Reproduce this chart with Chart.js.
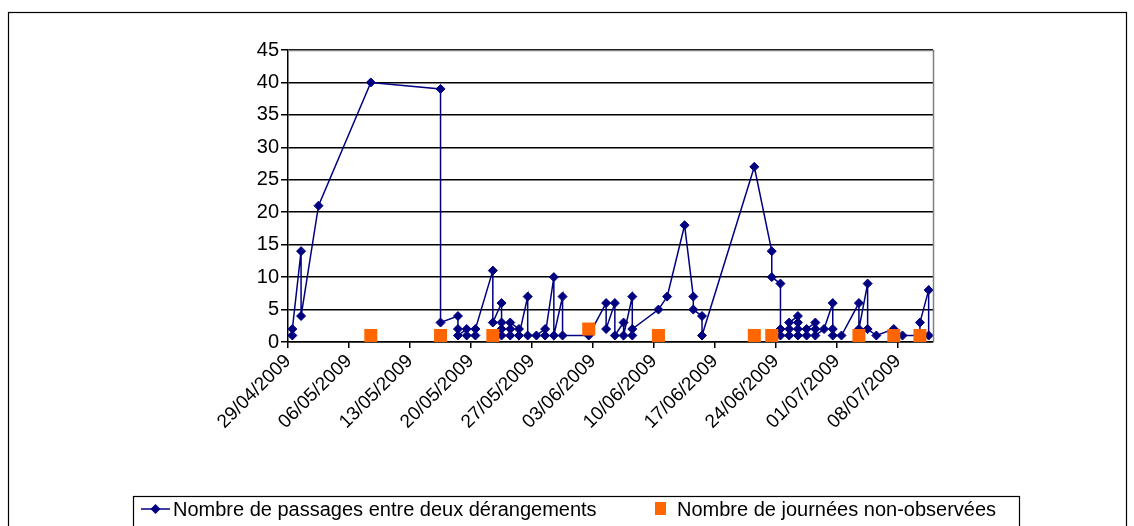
<!DOCTYPE html>
<html>
<head>
<meta charset="utf-8">
<script src="https://cdn.jsdelivr.net/npm/chart.js@4.4.1/dist/chart.umd.min.js"></script>
<style>
  html, body { margin: 0; padding: 0; background: #fff; }
  #wrap { position: relative; width: 1134px; height: 526px; }
</style>
</head>
<body>
<div id="wrap"><canvas id="chart" width="1134" height="526"></canvas></div>
<script>
// Passages between two disturbances (dd/mm, 2009), one entry per recorded value
const passDates = [
    '29/04', '29/04', '30/04', '30/04', '02/05', '08/05',
    '16/05', '16/05', '18/05', '18/05', '18/05', '19/05', '19/05', '20/05', '20/05',
    '22/05', '22/05', '23/05', '23/05', '23/05', '23/05', '24/05', '24/05', '24/05',
    '25/05', '25/05', '26/05', '26/05', '27/05', '28/05', '28/05', '29/05', '29/05', '30/05', '30/05',
    '02/06', '04/06', '04/06', '05/06', '05/06', '06/06', '06/06', '07/06', '07/06', '07/06',
    '10/06', '11/06', '13/06', '14/06', '14/06', '15/06', '15/06',
    '21/06', '23/06', '23/06', '24/06', '24/06', '24/06', '25/06', '25/06', '25/06',
    '26/06', '26/06', '26/06', '26/06', '27/06', '27/06', '28/06', '28/06', '28/06', '29/06',
    '30/06', '30/06', '30/06', '01/07', '03/07', '03/07', '04/07', '04/07', '05/07',
    '07/07', '08/07', '10/07', '10/07', '11/07', '11/07'
];
const passValues = [
    1, 2, 14, 4, 21, 40,
    39, 3, 4, 2, 1, 2, 1, 1, 2,
    11, 3, 6, 3, 2, 1, 1, 2, 3,
    2, 1, 7, 1, 1, 2, 1, 10, 1, 7, 1,
    1, 6, 2, 6, 1, 3, 1, 7, 1, 2,
    5, 7, 18, 7, 5, 4, 1,
    27, 14, 10, 9, 2, 1, 1, 2, 3,
    4, 3, 2, 1, 1, 2, 3, 2, 1, 2,
    6, 2, 1, 1, 6, 2, 9, 2, 1,
    2, 1, 1, 3, 8, 1
];

// Days that were not observed
const gapDates = ['08/05', '16/05', '22/05', '02/06', '10/06', '21/06', '23/06', '03/07', '07/07', '10/07'];
const gapValues = [1, 1, 1, 2, 1, 1, 1, 1, 1, 1];

// Weekly tick labels along the date axis
const tickLabels = [
    '29/04/2009', '06/05/2009', '13/05/2009', '20/05/2009', '27/05/2009', '03/06/2009',
    '10/06/2009', '17/06/2009', '24/06/2009', '01/07/2009', '08/07/2009'
];

const seriesNames = ['Nombre de passages entre deux dérangements', 'Nombre de journées non-observées'];

const FONT = 'Liberation Sans, Arial, sans-serif';
const NAVY = '#000080';
const ORANGE = '#FF6600';

// days since 29/04/2009
function dayOf(str) {
    const parts = str.split('/').map(Number);
    return Math.round((Date.UTC(2009, parts[1] - 1, parts[0]) - Date.UTC(2009, 3, 29)) / 86400000);
}

// each value sits in the middle of its day slot
function toPoints(dates, values) {
    return dates.map((d, i) => ({ x: dayOf(d) + 0.5, y: values[i] }));
}

const framePlugin = {
    id: 'frame',
    beforeDraw(chart) {
        const ctx = chart.ctx;
        ctx.save();
        ctx.fillStyle = '#ffffff';
        ctx.fillRect(0, 0, chart.width, chart.height);
        ctx.restore();
    },
    afterDraw(chart) {
        const ctx = chart.ctx;
        const area = chart.chartArea;
        ctx.save();

        // grey plot border on top and right
        ctx.strokeStyle = '#808080';
        ctx.lineWidth = 1.5;
        ctx.beginPath();
        ctx.moveTo(area.left, area.top + 0.5);
        ctx.lineTo(area.right + 0.5, area.top + 0.5);
        ctx.lineTo(area.right + 0.5, area.bottom);
        ctx.stroke();

        // outer chart frame
        ctx.strokeStyle = '#000000';
        ctx.lineWidth = 1.2;
        ctx.strokeRect(8.5, 12.5, 1118, 530);

        // legend box
        ctx.strokeRect(133.5, 496.5, 886, 40);
        const ly = 509;
        ctx.strokeStyle = NAVY;
        ctx.lineWidth = 1.5;
        ctx.beginPath();
        ctx.moveTo(141, ly);
        ctx.lineTo(170, ly);
        ctx.stroke();
        ctx.fillStyle = NAVY;
        ctx.beginPath();
        ctx.moveTo(155.5, ly - 5);
        ctx.lineTo(160.5, ly);
        ctx.lineTo(155.5, ly + 5);
        ctx.lineTo(150.5, ly);
        ctx.closePath();
        ctx.fill();

        ctx.fillStyle = ORANGE;
        ctx.fillRect(655, 502, 11, 13);

        ctx.fillStyle = '#000000';
        ctx.font = '20px ' + FONT;
        ctx.textBaseline = 'middle';
        ctx.textAlign = 'left';
        ctx.fillText(seriesNames[0], 173, ly + 1);
        ctx.fillText(seriesNames[1], 677, ly + 1);
        ctx.restore();
    }
};

new Chart(document.getElementById('chart'), {
    type: 'line',
    data: {
        datasets: [{
            label: seriesNames[0],
            data: toPoints(passDates, passValues),
            borderColor: NAVY,
            borderWidth: 1.5,
            pointStyle: 'rectRot',
            pointRadius: 4.5,
            pointBorderWidth: 1,
            pointBackgroundColor: NAVY,
            pointBorderColor: NAVY,
            tension: 0,
            order: 1
        }, {
            label: seriesNames[1],
            data: toPoints(gapDates, gapValues),
            showLine: false,
            pointStyle: 'rect',
            pointRadius: 9.2,
            pointBorderWidth: 0,
            pointBackgroundColor: ORANGE,
            pointBorderColor: ORANGE,
            order: 0
        }]
    },
    options: {
        responsive: false,
        animation: false,
        devicePixelRatio: 1,
        layout: {
            padding: { left: 0, right: 201, top: 50, bottom: 0 }
        },
        scales: {
            x: {
                type: 'linear',
                min: 0,
                max: 74,
                afterBuildTicks: function(scale) {
                    scale.ticks = tickLabels.map((_, i) => ({ value: i * 7 }));
                },
                afterFit: function(scale) {
                    scale.height = 184;
                },
                border: { color: '#000000', width: 1.5 },
                grid: {
                    drawOnChartArea: false,
                    color: '#000000',
                    lineWidth: 1.5,
                    tickLength: 6
                },
                ticks: {
                    autoSkip: false,
                    minRotation: 45,
                    maxRotation: 45,
                    padding: 2,
                    color: '#000000',
                    font: { family: FONT, size: 19 },
                    callback: function(value, index) {
                        return tickLabels[index];
                    }
                }
            },
            y: {
                min: 0,
                max: 45,
                afterFit: function(scale) {
                    scale.width = 288;
                },
                border: { color: '#000000', width: 1.5 },
                grid: {
                    color: '#000000',
                    lineWidth: 1.5,
                    tickLength: 7
                },
                ticks: {
                    stepSize: 5,
                    padding: 2,
                    color: '#000000',
                    font: { family: FONT, size: 20 }
                }
            }
        },
        plugins: {
            legend: { display: false },
            tooltip: { enabled: false }
        }
    },
    plugins: [framePlugin]
});
</script>
</body>
</html>
